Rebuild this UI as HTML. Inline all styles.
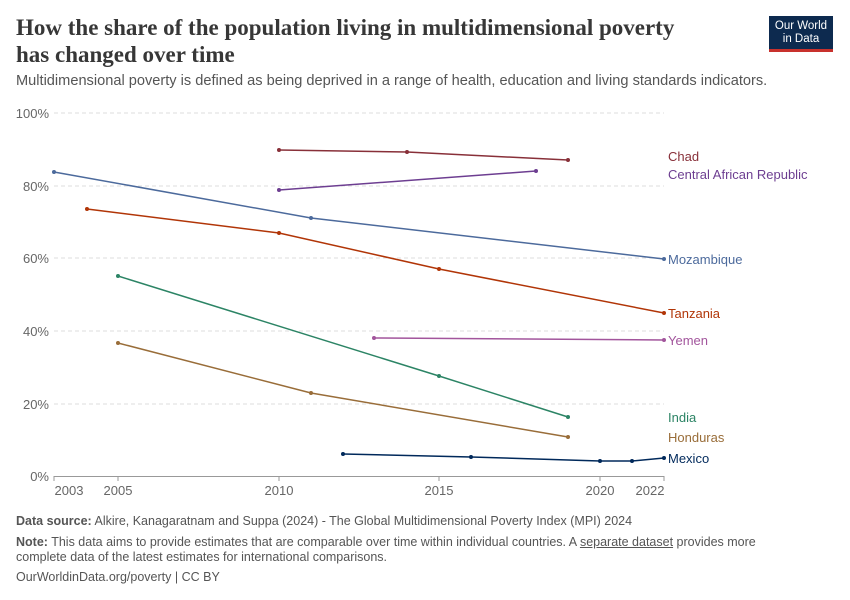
<!DOCTYPE html>
<html><head><meta charset="utf-8"><style>
body{margin:0;background:#fff;width:850px;height:600px;overflow:hidden;font-family:"Liberation Sans",sans-serif;}
.t{position:absolute;left:16px;top:14px;font-family:"Liberation Serif",serif;font-size:23px;line-height:27px;color:#373737;font-weight:bold;width:680px}
.s{position:absolute;left:16px;top:73px;font-size:14.6px;color:#555}
.logo{position:absolute;left:769px;top:16px;width:64px;height:36px;background:#0d2a4f;border-bottom:3px solid #c8312d;color:#fff;font-size:11.5px;text-align:center;line-height:13px;padding-top:4px;box-sizing:border-box}
.f{position:absolute;left:16px;font-size:12.5px;color:#555;line-height:15px}
</style></head><body>
<div class="t">How the share of the population living in multidimensional poverty has changed over time</div>
<div class="s">Multidimensional poverty is defined as being deprived in a range of health, education and living standards indicators.</div>
<div class="logo">Our World<br>in Data</div>
<svg width="850" height="600" style="position:absolute;left:0;top:0" font-family="Liberation Sans, sans-serif">
<g stroke="#ddd" stroke-dasharray="4,3">
<line x1="54" x2="664" y1="113" y2="113"/><line x1="54" x2="664" y1="186" y2="186"/><line x1="54" x2="664" y1="258" y2="258"/><line x1="54" x2="664" y1="331" y2="331"/><line x1="54" x2="664" y1="404" y2="404"/></g>
<line x1="54" x2="664" y1="476.5" y2="476.5" stroke="#999"/>
<g font-size="13" fill="#666" text-anchor="end">
<text x="49" y="118">100%</text><text x="49" y="191">80%</text><text x="49" y="263">60%</text><text x="49" y="336">40%</text><text x="49" y="409">20%</text><text x="49" y="481">0%</text></g>
<g stroke="#999"><line x1="54" x2="54" y1="476" y2="481"/><line x1="118" x2="118" y1="476" y2="481"/><line x1="279" x2="279" y1="476" y2="481"/><line x1="439" x2="439" y1="476" y2="481"/><line x1="600" x2="600" y1="476" y2="481"/><line x1="664" x2="664" y1="476" y2="481"/></g>
<g font-size="13" fill="#666" text-anchor="middle">
<text x="69" y="495">2003</text><text x="118" y="495">2005</text><text x="279" y="495">2010</text><text x="439" y="495">2015</text><text x="600" y="495">2020</text><text x="650" y="495">2022</text></g>
<g fill="none" stroke-width="1.5">
<polyline stroke="#883039" points="279,150 407,152 568,160"/>
<polyline stroke="#6d3e91" points="279,190 536,171"/>
<polyline stroke="#4c6a9c" points="54,172 311,218 664,259"/>
<polyline stroke="#b13507" points="87,209 279,233 439,269 664,313"/>
<polyline stroke="#2c8465" points="118,276 439,376 568,417"/>
<polyline stroke="#996d39" points="118,343 311,393 568,437"/>
<polyline stroke="#a2559c" points="374,338 664,340"/>
<polyline stroke="#00295b" points="343,454 471,457 600,461 632,461 664,458"/>
</g>
<g>
<g fill="#883039"><circle cx="279" cy="150" r="2"/><circle cx="407" cy="152" r="2"/><circle cx="568" cy="160" r="2"/></g>
<g fill="#6d3e91"><circle cx="279" cy="190" r="2"/><circle cx="536" cy="171" r="2"/></g>
<g fill="#4c6a9c"><circle cx="54" cy="172" r="2"/><circle cx="311" cy="218" r="2"/><circle cx="664" cy="259" r="2"/></g>
<g fill="#b13507"><circle cx="87" cy="209" r="2"/><circle cx="279" cy="233" r="2"/><circle cx="439" cy="269" r="2"/><circle cx="664" cy="313" r="2"/></g>
<g fill="#2c8465"><circle cx="118" cy="276" r="2"/><circle cx="439" cy="376" r="2"/><circle cx="568" cy="417" r="2"/></g>
<g fill="#996d39"><circle cx="118" cy="343" r="2"/><circle cx="311" cy="393" r="2"/><circle cx="568" cy="437" r="2"/></g>
<g fill="#a2559c"><circle cx="374" cy="338" r="2"/><circle cx="664" cy="340" r="2"/></g>
<g fill="#00295b"><circle cx="343" cy="454" r="2"/><circle cx="471" cy="457" r="2"/><circle cx="600" cy="461" r="2"/><circle cx="632" cy="461" r="2"/><circle cx="664" cy="458" r="2"/></g>
</g>
<g font-size="13">
<text x="668" y="161" fill="#883039">Chad</text>
<text x="668" y="179" fill="#6d3e91">Central African Republic</text>
<text x="668" y="264" fill="#4c6a9c">Mozambique</text>
<text x="668" y="318" fill="#b13507">Tanzania</text>
<text x="668" y="345" fill="#a2559c">Yemen</text>
<text x="668" y="422" fill="#2c8465">India</text>
<text x="668" y="442" fill="#996d39">Honduras</text>
<text x="668" y="463" fill="#00295b">Mexico</text>
</g>
</svg>
<div class="f" style="top:514px"><b>Data source:</b> Alkire, Kanagaratnam and Suppa (2024) - The Global Multidimensional Poverty Index (MPI) 2024</div>
<div class="f" style="top:535px;width:770px"><b>Note:</b> This data aims to provide estimates that are comparable over time within individual countries. A <u>separate dataset</u> provides more complete data of the latest estimates for international comparisons.</div>
<div class="f" style="top:570px">OurWorldinData.org/poverty | CC BY</div>
</body></html>
